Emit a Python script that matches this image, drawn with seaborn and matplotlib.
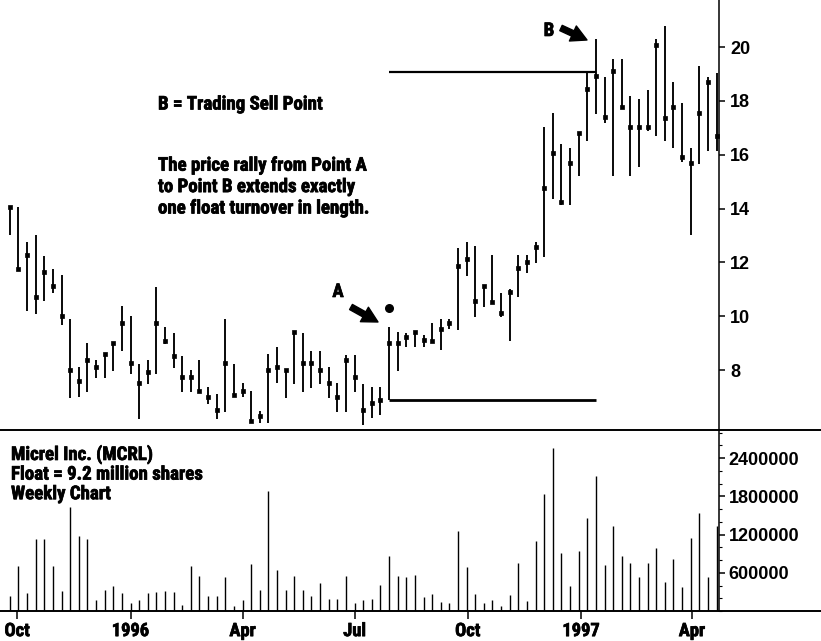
import numpy as np
import pandas as pd
import matplotlib
matplotlib.use("Agg")
import matplotlib.pyplot as plt
import matplotlib.dates as mdates
import matplotlib.patheffects as pe
from matplotlib.lines import Line2D
from matplotlib.patches import FancyArrowPatch
from matplotlib.ticker import MultipleLocator
from matplotlib.textpath import TextPath
from matplotlib import font_manager as fm
import seaborn as sns

# ---------------- data ----------------
week_start = "1995-09-25"
n_weeks = 83

high = [14.07, 14.05, 12.74, 13.02, 12.25, 11.74, 11.53, 9.90, 8.10, 9.00,
        8.37, 8.62, 9.05, 10.38, 10.01, 8.22, 8.37, 11.10, 9.61, 9.39,
        8.52, 8.00, 8.37, 7.37, 7.10, 9.88, 8.23, 7.51, 7.22, 6.49,
        8.58, 8.87, 8.02, 9.40, 9.39, 8.72, 8.72, 8.10, 7.51, 8.56,
        8.56, 7.48, 7.36, 7.36, 9.61, 9.43, 9.37, 9.40, 9.30, 9.76,
        9.88, 9.88, 12.52, 12.74, 12.61, 11.13, 12.26, 10.87, 11.00, 12.26,
        12.26, 12.74, 17.04, 17.56, 16.40, 16.26, 16.79, 19.02, 20.29, 18.90,
        19.57, 19.57, 18.18, 18.06, 18.40, 20.29, 20.78, 18.69, 17.91, 16.26,
        19.29, 18.90, 19.05]
low = [13.02, 11.74, 10.20, 10.08, 10.58, 10.85, 9.67, 6.97, 7.01, 7.18,
       7.69, 7.69, 7.98, 8.72, 7.84, 6.18, 7.48, 7.84, 8.97, 8.06,
       7.20, 7.18, 7.17, 6.73, 6.20, 6.45, 6.99, 6.99, 6.08, 6.04,
       6.04, 7.53, 6.97, 7.48, 7.20, 7.32, 7.48, 6.97, 6.45, 6.45,
       7.20, 5.95, 6.21, 6.33, 6.89, 7.98, 8.87, 8.87, 8.87, 8.99,
       8.74, 9.51, 9.49, 11.50, 9.98, 10.33, 10.48, 9.98, 9.08, 10.70,
       11.59, 11.99, 12.21, 14.35, 14.13, 14.13, 15.22, 16.51, 17.51, 17.17,
       15.22, 17.78, 15.22, 15.55, 16.88, 16.69, 16.52, 16.24, 15.72, 13.02,
       15.64, 16.15, 16.15]
close = [14.05, 11.76, 12.27, 10.70, 11.63, 11.12, 10.02, 8.00, 7.59, 8.37,
         8.10, 8.60, 9.00, 9.76, 8.25, 7.51, 7.93, 9.76, 9.07, 8.53,
         7.73, 7.73, 7.21, 7.01, 6.52, 8.25, 7.08, 7.23, 6.09, 6.28,
         8.02, 8.10, 8.02, 9.40, 8.25, 8.25, 8.02, 7.51, 7.01, 8.37,
         7.73, 6.52, 6.79, 6.89, 9.02, 9.02, 9.22, 9.40, 9.12, 9.09,
         9.51, 9.76, 11.86, 12.11, 10.56, 11.13, 10.54, 10.13, 10.91, 11.78,
         12.02, 12.58, 14.77, 16.05, 14.25, 15.68, 16.79, 18.43, 18.92, 17.41,
         19.11, 17.78, 17.04, 17.04, 17.04, 20.07, 17.37, 17.78, 15.93, 15.68,
         17.56, 18.71, 16.69]
volume = [232, 701, 285, 1135, 1135, 701, 321, 1625, 1171, 1135,
          180, 337, 388, 285, 128, 180, 285, 301, 321, 301,
          102, 701, 556, 232, 243, 529, 86, 180, 743, 337,
          1891, 639, 337, 556, 337, 232, 441, 196, 196, 556,
          128, 169, 196, 415, 858, 556, 529, 567, 222, 274,
          149, 122, 1260, 686, 274, 128, 180, 86, 258, 754,
          164, 1103, 1839, 2554, 911, 399, 947, 1453, 2126, 723,
          1338, 869, 754, 529, 754, 989, 457, 822, 379, 1146,
          1537, 529, 1338]
volume = [v * 1000 for v in volume]

point_a_idx = 44
point_b_idx = 68
top_line_level = 19.08
a_dot_price = 10.29

price_ticks = [8, 10, 12, 14, 16, 18, 20]
volume_ticks = [600000, 1200000, 1800000, 2400000]
xtick_dates = ["1995-10-01", "1996-01-01", "1996-04-01", "1996-07-01",
               "1996-10-01", "1997-01-01", "1997-04-01"]
xtick_labels = ["Oct", "1996", "Apr", "Jul", "Oct", "1997", "Apr"]

note_title = "B = Trading Sell Point"
note_lines = ["The price rally from Point A",
              "to Point B extends exactly",
              "one float turnover in length."]
info_lines = ["Micrel Inc. (MCRL)", "Float = 9.2 million shares", "Weekly Chart"]

# ---------------- fonts: look for an installed condensed bold face ----------------
def _is_bold(f):
    w = f.weight
    if isinstance(w, str):
        return "bold" in w.lower() or w.lower() in ("heavy", "black", "semibold", "demibold")
    return w >= 600

prefs = ["LiberationSansNarrow-Bold", "ArialNarrow", "NotoSans-CondensedBold",
         "OpenSans_Condensed-Bold", "OpenSansCondensed-Bold", "OpenSans-CondensedBold",
         "RobotoCondensed-Bold", "Roboto_Condensed-Bold", "DejaVuSansCondensed-Bold",
         "NotoSans-SemiCondensedBold", "OpenSans_SemiCondensed-Bold"]
narrow_path = None
entries = fm.fontManager.ttflist
for p in prefs:
    for f in entries:
        if p.lower() in f.fname.lower().replace(" ", ""):
            narrow_path = f.fname
            break
    if narrow_path:
        break
if narrow_path is None:
    for f in entries:
        tag = (f.name + " " + str(f.stretch) + " " + f.fname).lower()
        if ("condensed" in tag or "narrow" in tag) and "extra" not in tag and _is_bold(f):
            narrow_path = f.fname
            break

WIDE = ["Liberation Sans", "DejaVu Sans"]


def _props(size):
    if narrow_path is not None:
        return fm.FontProperties(fname=narrow_path, size=size)
    return fm.FontProperties(family=WIDE, weight="bold", size=size)


def fit_size(sample, target_px, base, k=0.65):
    """font size between a height match (base) and a width match to the reference."""
    w_pt = TextPath((0, 0), sample, prop=_props(base)).get_extents().width
    w_px = w_pt * 100 / 72
    return base * (target_px / max(w_px, 1)) ** k


ann_size = fit_size("The price rally from Point A", 209, 13.5)
xt_size = fit_size("1996", 35, 13.5)
STROKE = [pe.withStroke(linewidth=0.5, foreground="black")]

# ---------------- frame ----------------
dates = pd.date_range(week_start, periods=n_weeks, freq="7D")
df = pd.DataFrame({"x": mdates.date2num(dates.to_pydatetime()),
                   "high": high, "low": low, "close": close, "volume": volume})

sns.set_theme(style="white")
plt.rcParams["font.family"] = WIDE
plt.rcParams["font.weight"] = "bold"

W, H = 821, 641
fig = plt.figure(figsize=(W / 100, H / 100), dpi=100)
fig.patch.set_facecolor("white")

x_right = 719
y_div = 430
y_bot = 611
ax_p = fig.add_axes([0, 1 - y_div / H, x_right / W, y_div / H])
ax_v = fig.add_axes([0, 1 - y_bot / H, x_right / W, (y_bot - y_div) / H])

xlim = (mdates.date2num(pd.Timestamp("1995-09-17")),
        mdates.date2num(pd.Timestamp("1997-04-23")))

# ---------------- price panel ----------------
ax_p.vlines(df["x"], df["low"], df["high"], color="black", lw=1.35)
sns.scatterplot(data=df, x="x", y="close", marker="s", s=8, color="black",
                edgecolor="black", linewidth=0.5, ax=ax_p, legend=False, zorder=3)
xa = df["x"][point_a_idx]
xb = df["x"][point_b_idx]
ax_p.hlines(low[point_a_idx], xa, xb, color="black", lw=2.0)
ax_p.hlines(top_line_level, xa, xb, color="black", lw=1.6)
ax_p.scatter([xa], [a_dot_price], s=30, color="black", zorder=4)

ax_p.set_xlim(*xlim)
ax_p.set_ylim(5.773, 21.746)
for s in ["left", "top", "bottom"]:
    ax_p.spines[s].set_visible(False)
ax_p.spines["right"].set_linewidth(1.1)
ax_p.spines["right"].set_color("black")
ax_p.yaxis.tick_right()
ax_p.set_yticks(price_ticks, labels=[str(t) for t in price_ticks],
                fontfamily=WIDE, fontweight="bold", fontsize=13)
ax_p.tick_params(axis="y", direction="out", length=4, width=1.1, pad=4,
                 colors="black", right=True, left=False)
ax_p.tick_params(axis="x", bottom=False, labelbottom=False)
ax_p.set_xlabel("")
ax_p.set_ylabel("")

# ---------------- volume panel ----------------
ax_v.vlines(df["x"], 0, df["volume"], color="black", lw=1.0)
ax_v.set_xlim(*xlim)
ax_v.set_ylim(0, 2841000)
for s in ["left", "top", "bottom"]:
    ax_v.spines[s].set_visible(False)
ax_v.spines["right"].set_linewidth(1.1)
ax_v.spines["right"].set_color("black")
ax_v.yaxis.tick_right()
ax_v.set_yticks(volume_ticks, labels=[str(t) for t in volume_ticks],
                fontfamily=WIDE, fontweight="bold", fontsize=13)
ax_v.yaxis.set_minor_locator(MultipleLocator(200000))
ax_v.tick_params(axis="y", which="major", direction="out", length=4, width=1.1,
                 pad=3, colors="black", right=True, left=False)
ax_v.tick_params(axis="y", which="minor", direction="out", length=2.5, width=0.8,
                 colors="black", right=True, left=False)
xt = [mdates.date2num(pd.Timestamp(d)) for d in xtick_dates]
ax_v.set_xticks(xt, labels=xtick_labels, fontproperties=_props(xt_size))
for lab in ax_v.get_xticklabels():
    lab.set_path_effects(STROKE)
ax_v.tick_params(axis="x", direction="out", length=6, width=1.1, pad=2,
                 colors="black", bottom=True)
ax_v.set_xlabel("")
ax_v.set_ylabel("")

# full-width horizontal rules
for yy in (y_div, y_bot):
    fig.add_artist(Line2D([0, 1], [1 - yy / H, 1 - yy / H], transform=fig.transFigure,
                          color="black", lw=1.4))

# ---------------- annotations ----------------
def ftext(x, y, s, size, **kw):
    fig.text(x / W, 1 - y / H, s, color="black", fontproperties=_props(size),
             path_effects=STROKE, **kw)

ftext(158, 109.5, note_title, ann_size, va="baseline", ha="left")
for i, line in enumerate(note_lines):
    ftext(158, 170.7 + 21.4 * i, line, ann_size, va="baseline", ha="left")
for i, line in enumerate(info_lines):
    ftext(11, 460 + 19.6 * i, line, ann_size, va="baseline", ha="left")
ftext(338, 292, "A", ann_size, va="center", ha="center")
ftext(549, 31, "B", ann_size, va="center", ha="center")

arrow_kw = dict(arrowstyle="simple,head_width=0.85,head_length=0.8,tail_width=0.3",
                color="black", mutation_scale=14, shrinkA=0, shrinkB=0)
fig.add_artist(FancyArrowPatch(
    (351 / W, 1 - 307 / H), (378 / W, 1 - 322 / H), transform=fig.transFigure, **arrow_kw))
fig.add_artist(FancyArrowPatch(
    (561 / W, 1 - 28 / H), (587 / W, 1 - 40 / H), transform=fig.transFigure, **arrow_kw))

fig.savefig("out.png", dpi=100, facecolor="white")
